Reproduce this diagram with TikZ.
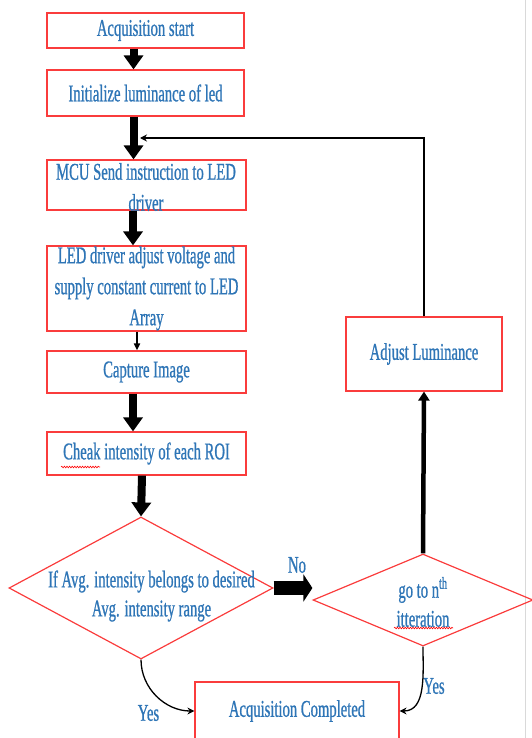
\documentclass[tikz,border=0pt]{standalone}
\usepackage{fontspec}
\setmainfont[FakeStretch=0.61,FakeBold=0.8]{Liberation Serif}
\usepackage{tikz}
\usetikzlibrary{arrows.meta}
\usetikzlibrary{shapes.geometric}
\usetikzlibrary{decorations.pathmorphing}
\definecolor{txtblue}{RGB}{46,117,182}
\definecolor{boxred}{RGB}{250,60,60}
\tikzset{
 box/.style={draw=boxred, line width=1.2pt, rectangle, inner sep=0pt, text=txtblue, align=center, font=\fontsize{24}{31}\selectfont},
 txt/.style={inner sep=0pt, text=txtblue, align=center, font=\fontsize{24}{29}\selectfont},
 decision/.style={draw=boxred, line width=1.2pt, diamond, inner sep=0pt},
 blk/.style={line width=8pt, -{Triangle[width=19pt,length=14pt]}},
 blkthin/.style={line width=1.8pt, -{Triangle[width=6pt,length=7pt]}},
 blkwide/.style={line width=14pt, -{Triangle[width=27pt,length=9pt]}},
 up/.style={line width=4.5pt, -{Triangle[width=11pt,length=9pt]}},
 feedback/.style={line width=2pt, -{Stealth[width=7pt,length=7pt]}},
 yes/.style={line width=1.3pt, -{Stealth[width=7pt,length=7pt]}},
 spell/.style={red, line width=0.6pt, decorate, decoration={snake, amplitude=0.8pt, segment length=2.6pt}}
}

\begin{document}
\begin{tikzpicture}[x=1pt,y=-1pt]
\useasboundingbox (0,0) rectangle (532,738);
\draw[black!15] (525,0) -- (525,738);
\node[box, minimum width=197, minimum height=35] (start) at (145.5,30.5) {Acquisition start};
\node[box, minimum width=197, minimum height=46] (init) at (145.5,93) {Initialize luminance of led};
\node[box, minimum width=199, minimum height=50] (mcu) at (146.5,185) {};
\node[box, draw=none] (mcutxt) at (146,187) {MCU Send instruction to LED\\driver};
\node[box, minimum width=199, minimum height=85] (driver) at (146.5,288.5) {LED driver adjust voltage and\\supply constant current to LED\\Array};
\node[box, minimum width=199, minimum height=42] (capture) at (146.5,372) {Capture Image};
\node[box, minimum width=199, minimum height=43] (roi) at (146.5,453.5) {Cheak intensity of each ROI};
\node[decision, minimum width=264, minimum height=142] (check) at (141,588) {};
\node[txt] (checktxt) at (151.5,596) {If Avg. intensity belongs to desired\\Avg. intensity range};
\node[decision, minimum width=220, minimum height=92] (iter) at (423,600) {};
\node[txt] (itertxt) at (423,602) {go to n\textsuperscript{th}\\itteration};
\node[box, minimum width=156, minimum height=74] (adjust) at (424,354) {Adjust Luminance};
\node[box, minimum width=204, minimum height=58] (done) at (297,711) {Acquisition Completed};
\node[txt] (no) at (297,565) {No};
\node[txt] (yesl) at (148.5,713) {Yes};
\node[txt] (yesr) at (434,686) {Yes};
\coordinate (back) at (140,138);
\draw[spell] (61,467) -- (100,467);
\draw[spell] (394,628) -- (453,628);

\draw[blk] ([xshift=-12pt]start.south) -- ([xshift=-12pt]init.north);
\draw[blk] ([xshift=-12pt]init.south) -- ([xshift=-13pt]mcu.north);
\draw[blk] ([xshift=-13.5pt]mcu.south) -- ([xshift=-13.5pt]driver.north);
\draw[blkthin] ([xshift=-9.5pt]driver.south) -- ([xshift=-9.5pt]capture.north);
\draw[blk] ([xshift=-13.5pt]capture.south) -- ([xshift=-13.5pt]roi.north);
\draw[blk] ([xshift=-4.5pt]roi.south) -- (check.north);
\draw[blkwide] (check.east) -- (check.east -| iter.west);
\draw[up] (iter.north) -- (adjust.south);
\draw[feedback] (adjust.north) |- (back);
\draw[yes] (check.south) to[out=-90,in=180] (done.west);
\draw[yes] (iter.south) to[out=-90,in=0] (done.east);
\end{tikzpicture}
\end{document}
